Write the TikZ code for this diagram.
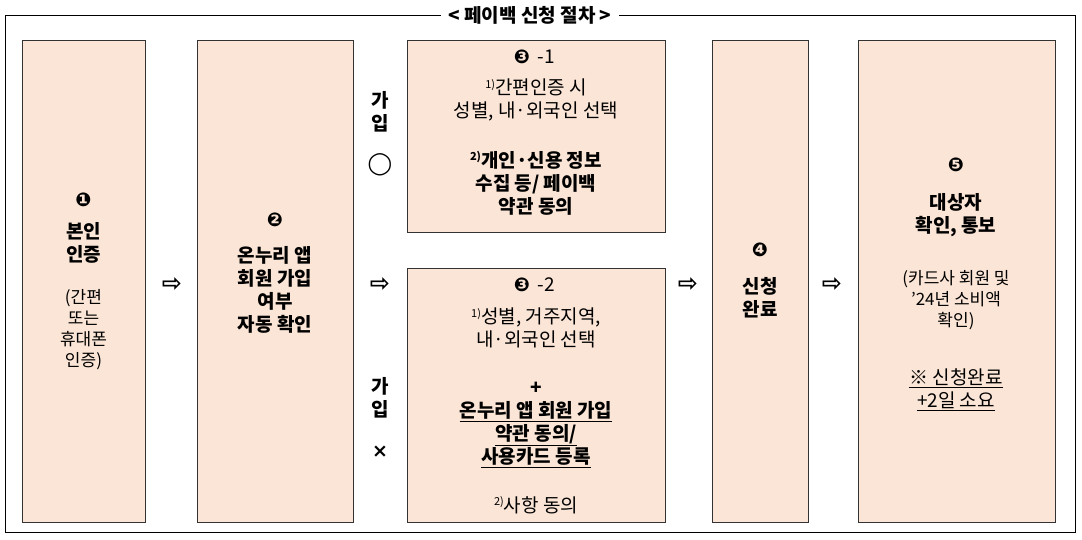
\documentclass[tikz,border=0pt]{standalone}
\usepackage{fontspec}
\setmainfont{Noto Sans CJK KR}
\newfontfamily\symfnt{DejaVu Sans Bold}
\definecolor{peach}{HTML}{FBE5D6}
\newcommand{\supx}[1]{\raisebox{0.6ex}{\fontsize{11}{11}\selectfont #1}}
\tikzset{box/.style={draw=black!80,line width=1pt,fill=peach},
  txt/.style={align=center,font=\fontsize{19}{23}\selectfont},
  stxt/.style={align=center,font=\fontsize{17}{21}\selectfont},
  num/.style={font=\symfnt\fontsize{19}{19}\selectfont},
  arr/.style={font=\symfnt\fontsize{24}{24}\selectfont}}
\begin{document}
\begin{tikzpicture}[x=1pt,y=-1pt]
\useasboundingbox (0,0) rectangle (1082,539);
\draw[line width=1pt] (5,15) rectangle (1075,532);
\node[fill=white,font=\bfseries\fontsize{19}{19}\selectfont,inner xsep=8pt] (title) at (530,15) {< 페이백 신청 절차 >};
\draw[box] (22,40) rectangle (145,522);
\draw[box] (197,40) rectangle (353,522);
\draw[box] (407,40) rectangle (665,232);
\draw[box] (407,268) rectangle (665,522);
\draw[box] (712,40) rectangle (808,522);
\draw[box] (858,40) rectangle (1055,522);
\node[num] (n1) at (83.5,200) {❶};
\node[txt,font=\bfseries\fontsize{19}{23}\selectfont] (t1) at (83.5,243) {본인\\인증};
\node[stxt] (t1b) at (83.5,330) {(간편\\또는\\휴대폰\\인증)};
\node[num] (n2) at (275,220) {❷};
\node[txt,font=\bfseries\fontsize{19}{23}\selectfont] (t2) at (275,290) {온누리 앱\\회원 가입\\여부\\자동 확인};
\node[num] (n31) at (522,57) {❸};
\node[txt] (t31n) at (546,57) {-1};
\node[txt] (t31) at (536,100) {\supx{1)}간편인증 시\\성별, 내·외국인 선택};
\node[txt,font=\bfseries\fontsize{19}{23}\selectfont] (t31b) at (536,183) {\supx{2)}개인·신용 정보\\수집 등/ 페이백\\약관 동의};
\node[num] (n32) at (522,285) {❸};
\node[txt] (t32n) at (546,285) {-2};
\node[txt] (t32) at (536,328) {\supx{1)}성별, 거주지역,\\내·외국인 선택};
\node[txt,font=\bfseries\fontsize{19}{23}\selectfont] (t32b) at (536,425) {+\\\underline{온누리 앱 회원 가입}\\\underline{약관 동의/}\\\underline{사용카드 등록}};
\node[txt] (t32c) at (536,505) {\supx{2)}사항 동의};
\node[num] (n4) at (760,250) {❹};
\node[txt,font=\bfseries\fontsize{19}{23}\selectfont] (t4) at (760,298) {신청\\완료};
\node[num] (n5) at (956,165) {❺};
\node[txt,font=\bfseries\fontsize{19}{23}\selectfont] (t5) at (956,215) {대상자\\확인, 통보};
\node[stxt] (t5b) at (956,300) {(카드사 회원 및\\'24년 소비액\\확인)};
\node[txt] (t5c) at (956,390) {\underline{※ 신청완료}\\\underline{+2일 소요}};
\node[txt,font=\bfseries\fontsize{19}{23}\selectfont] (j1) at (380,112) {가\\입};
\node[num,font=\symfnt\fontsize{22}{22}\selectfont] (j1o) at (380,165) {◯};
\node[txt,font=\bfseries\fontsize{19}{23}\selectfont] (j2) at (380,398) {가\\입};
\node[num] (j2x) at (380,452) {×};
\node[arr] (a1) at (172,285) {⇨};
\node[arr] (a2) at (380,285) {⇨};
\node[arr] (a3) at (688,285) {⇨};
\node[arr] (a4) at (832,285) {⇨};
\end{tikzpicture}
\end{document}
